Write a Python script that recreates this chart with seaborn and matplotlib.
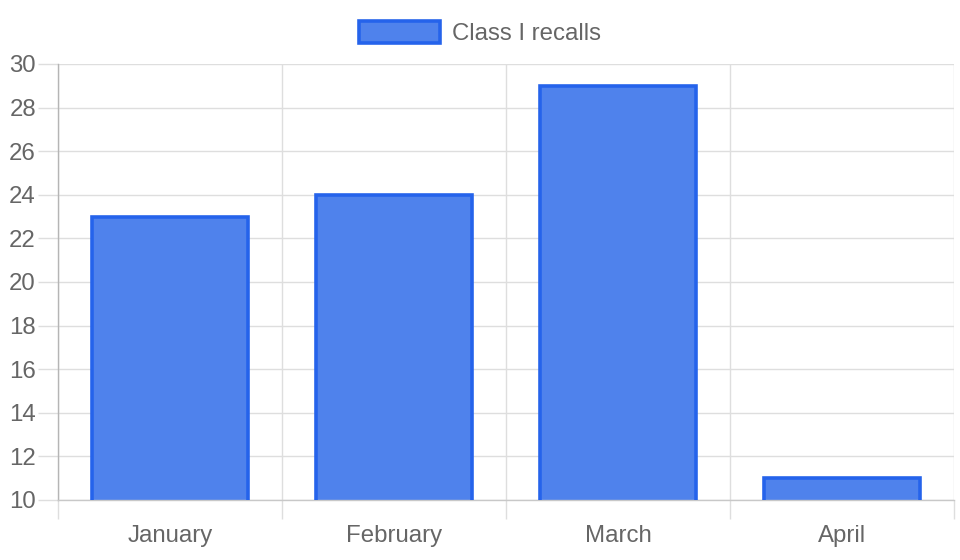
import numpy as np
import pandas as pd
import matplotlib
matplotlib.use("Agg")
import matplotlib.pyplot as plt
import matplotlib.patches as mpatches
import seaborn as sns

# data
months = ["January", "February", "March", "April"]
recalls = [23, 24, 29, 11]
series_name = "Class I recalls"

fill_color = "#4f82ec"
edge_color = "#2563eb"
grid_color = "#dedede"
axis_color = "#b5b5b5"
text_color = "#666666"

sns.set_theme(style="white")
plt.rcParams["font.family"] = ["Liberation Sans", "DejaVu Sans"]

df = pd.DataFrame({"month": months, "recalls": recalls})

fig = plt.figure(figsize=(9.6, 5.6), dpi=100)
ax = fig.add_axes([58 / 960, 60 / 560, 896 / 960, 436 / 560])

sns.barplot(data=df, x="month", y="recalls", color=fill_color, saturation=1,
            width=0.7, edgecolor="none", ax=ax)

# border on top and sides only (no bottom border)
for p in ax.patches:
    x0, w, h = p.get_x(), p.get_width(), p.get_height()
    ax.plot([x0, x0, x0 + w, x0 + w], [0, h, h, 0], color=edge_color,
            lw=2.6, solid_joinstyle="miter", zorder=3)

ax.set_ylim(10, 30)
ax.set_xlim(-0.5, len(months) - 0.5)
ax.set_yticks(np.arange(10, 31, 2))
ax.set_xticks(np.arange(-0.5, len(months)), minor=True)
ax.set_xlabel("")
ax.set_ylabel("")

ax.grid(axis="y", which="major", color=grid_color, lw=1)
ax.grid(axis="x", which="minor", color=grid_color, lw=1)
ax.set_axisbelow(True)

ax.tick_params(axis="y", which="major", length=14.4, width=1, color=grid_color,
               labelsize=17.3, labelcolor=text_color, pad=1.5, left=True)
ax.tick_params(axis="x", which="major", length=0, labelsize=17.3,
               labelcolor=text_color, pad=18)
ax.tick_params(axis="x", which="minor", length=14, width=1, color=grid_color,
               bottom=True)
# the first minor tick continues the y axis line downwards
ax.xaxis.get_minor_ticks()[0].tick1line.set_color(axis_color)

for side in ["top", "right"]:
    ax.spines[side].set_visible(False)
ax.spines["left"].set_color(axis_color)
ax.spines["bottom"].set_color("#c8c8c8")
ax.spines["left"].set_linewidth(1)
ax.spines["bottom"].set_linewidth(1)
ax.spines["left"].set_bounds(10, 30)

handle = mpatches.Patch(facecolor=fill_color, edgecolor=edge_color, linewidth=2.6)
fig.legend([handle], [series_name], loc="center", bbox_to_anchor=(0.5, 1 - 33 / 560),
           frameon=False, fontsize=17.3, labelcolor=text_color,
           handlelength=3.4, handleheight=1.0, handletextpad=0.5)

fig.savefig("out.png", dpi=100)
